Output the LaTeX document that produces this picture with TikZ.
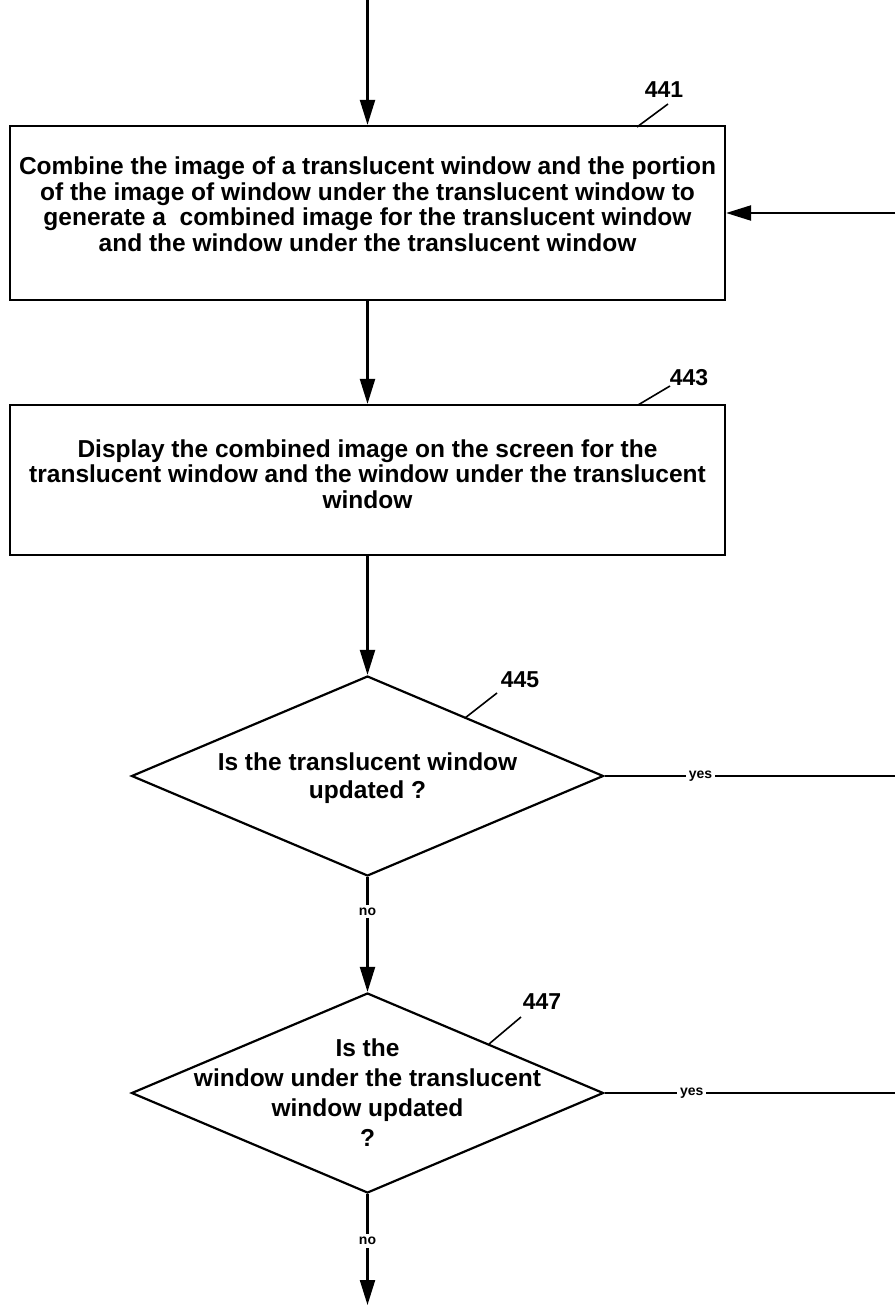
\documentclass[tikz,border=0pt]{standalone}
\usepackage{fontspec}
\setmainfont{Liberation Sans}
\usetikzlibrary{arrows.meta,shapes.geometric}
\begin{document}
\begin{tikzpicture}[x=1pt,y=-1pt,
  line width=2.2pt,
  arr/.style={-{Triangle[length=25pt,width=15pt]}},
  stepbox/.style={draw,rectangle,inner sep=0pt,minimum width=715pt},
  dia/.style={draw,diamond,inner sep=0pt,minimum width=472pt,minimum height=200pt},
  txt/.style={font=\fontsize{24.5}{25.5}\selectfont\bfseries,align=center,inner sep=0pt},
  ref/.style={font=\fontsize{23}{26}\selectfont\bfseries,inner sep=0pt},
  small/.style={font=\fontsize{14}{16}\selectfont\bfseries,fill=white,inner sep=3pt}]
\useasboundingbox (0,0) rectangle (895,1305);
% boxes
\node[stepbox,minimum height=174pt] (b441) at (367.5,213) {};
\node[txt] (t441) at (367.5,204) {Combine the image of a translucent window and the portion\\of the image of window under the translucent window to\\generate a\ \ combined image for the translucent window\\and the window under the translucent window};
\node[stepbox,minimum height=150pt] (b443) at (367.5,480) {};
\node[txt] (t443) at (367.5,474) {Display the combined image on the screen for the\\translucent window and the window under the translucent\\window};
% diamonds
\node[dia] (d445) at (367.5,776) {};
\node[txt,font=\fontsize{24.5}{28}\selectfont\bfseries] (t445) at (367.5,778) {Is the translucent window\\updated ?};
\node[dia] (d447) at (367.5,1093) {};
\node[txt,font=\fontsize{24.5}{30}\selectfont\bfseries] (t447) at (367.5,1093) {Is the\\window under the translucent\\window updated\\?};
% reference numerals
\node[ref] (n441) at (664,90) {441};
\coordinate (l441a) at (637,127); \coordinate (l441b) at (668,104);
\draw[line width=1.6pt] (l441a) -- (l441b);
\node[ref] (n443) at (689,378) {443};
\coordinate (l443a) at (638,405); \coordinate (l443b) at (670,386);
\draw[line width=1.6pt] (l443a) -- (l443b);
\node[ref] (n445) at (520,680) {445};
\coordinate (l445a) at (465,718); \coordinate (l445b) at (497,693);
\draw[line width=1.6pt] (l445a) -- (l445b);
\node[ref] (n447) at (542,1002) {447};
\coordinate (l447a) at (489,1044); \coordinate (l447b) at (521,1017);
\draw[line width=1.6pt] (l447a) -- (l447b);
% connectors
\coordinate (top) at (367.5,0);
\coordinate (bot) at (367.5,1305);
\coordinate (r441) at (895,213);
\coordinate (r445) at (895,776);
\coordinate (r447) at (895,1093);
\draw[arr] (top) -- (b441.north);
\draw[arr] (b441.south) -- (b443.north);
\draw[arr] (b443.south) -- (d445.north);
\draw[arr] (d445.south) -- node[small,pos=0.3] (no1) {no} (d447.north);
\draw[arr] (d447.south) -- node[small,pos=0.42] (no2) {no} (bot);
\draw (d445.east) -- node[small,pos=0.33] (yes1) {yes} (r445);
\draw (d447.east) -- node[small,pos=0.3] (yes2) {yes} (r447);
\draw[arr] (r441) -- (b441.east);
\end{tikzpicture}
\end{document}
